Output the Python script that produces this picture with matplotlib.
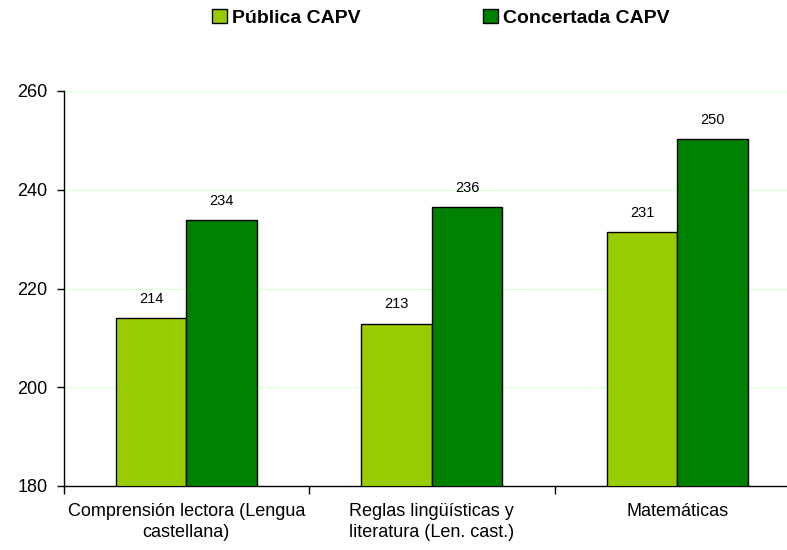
import matplotlib.pyplot as plt
from matplotlib.patches import Patch

plt.rcParams['font.family'] = ['Liberation Sans', 'DejaVu Sans']

categories = ['Comprensión lectora (Lengua\ncastellana)',
              'Reglas lingüísticas y\nliteratura (Len. cast.)',
              'Matemáticas']
publica = [214.0, 212.9, 231.4]
concertada = [233.8, 236.5, 250.2]
series_names = ['Pública CAPV', 'Concertada CAPV']
yticks = [180, 200, 220, 240, 260]

c_light = '#99CC00'
c_dark = '#008000'

fig = plt.figure(figsize=(7.87, 5.5), dpi=100)
ax = fig.add_axes([63.5 / 787, 64 / 550, 736.5 / 787, 395 / 550])

x = list(range(len(categories)))
w = 0.287
ax.bar([i - w / 2 for i in x], publica, width=w, color=c_light,
       edgecolor='black', linewidth=1, zorder=3)
ax.bar([i + w / 2 for i in x], concertada, width=w, color=c_dark,
       edgecolor='black', linewidth=1, zorder=3)

for i in x:
    ax.annotate(f'{publica[i]:.0f}', (i - w / 2, publica[i]), xytext=(0, 9),
                textcoords='offset points', ha='center', va='bottom', fontsize=10.5)
    ax.annotate(f'{concertada[i]:.0f}', (i + w / 2, concertada[i]), xytext=(0, 9),
                textcoords='offset points', ha='center', va='bottom', fontsize=10.5)

ax.set_ylim(180, 260)
ax.set_yticks(yticks)
ax.set_xlim(-0.5, 2.5)
ax.set_xticks([-0.5, 0.5, 1.5, 2.5])
ax.set_xticklabels([])
ax.set_xticks(x, minor=True)
ax.set_xticklabels(categories, minor=True, fontsize=13, linespacing=1.35,
                   multialignment='center')
ax.tick_params(axis='x', which='minor', length=0, pad=12)
ax.tick_params(axis='x', which='major', length=6, width=1)
ax.tick_params(axis='y', length=5, width=1, pad=6.5, labelsize=13)

ax.yaxis.grid(True, color='#dfffdf', linewidth=1, zorder=0)
ax.set_axisbelow(True)
for s in ['top', 'right']:
    ax.spines[s].set_visible(False)
ax.spines['left'].set_linewidth(1)
ax.spines['bottom'].set_linewidth(1)

handles = [Patch(facecolor=c_light, edgecolor='black', linewidth=1),
           Patch(facecolor=c_dark, edgecolor='black', linewidth=1)]
fig.legend(handles, series_names, loc='center', bbox_to_anchor=(0.56, 0.968),
           ncol=2, frameon=False, prop={'weight': 'bold', 'size': 14},
           handlelength=0.77, handleheight=0.77, handletextpad=0.26,
           columnspacing=6.3)

fig.savefig('out.png', dpi=100)
